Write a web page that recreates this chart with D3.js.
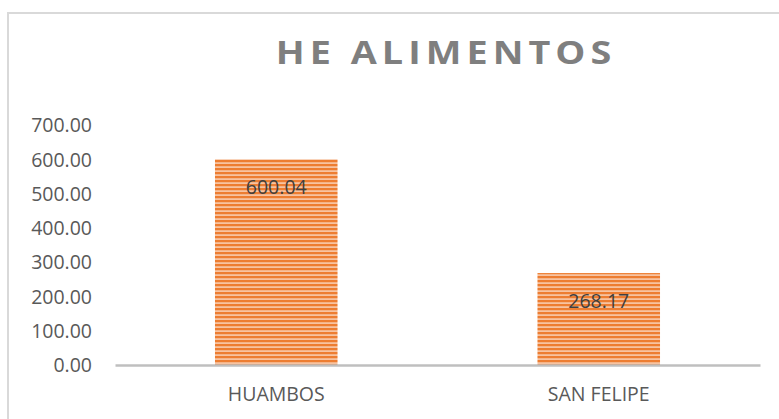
<!DOCTYPE html>
<html>
<head>
<meta charset="utf-8">
<script src="https://cdn.jsdelivr.net/npm/d3@7"></script>
<style>
    body { margin: 0; background: #fff; }
    text { font-family: "Open Sans", sans-serif; }
</style>
</head>
<body>
<div id="my_dataviz"></div>
<script>
// chart data
var categories = ["HUAMBOS", "SAN FELIPE"];
var values = [600.04, 268.17];
var yTicks = [0, 100, 200, 300, 400, 500, 600, 700];
var title = "HE ALIMENTOS";

var width = 779;
var height = 419;

var svg = d3
    .select("#my_dataviz")
    .append("svg")
    .attr("id", "svg")
    .attr("width", width)
    .attr("height", height);

// stripes like the excel "light horizontal" fill
var pat = svg.append("defs")
    .append("pattern")
    .attr("id", "stripes")
    .attr("patternUnits", "userSpaceOnUse")
    .attr("width", 8)
    .attr("height", 4);
pat.append("rect").attr("width", 8).attr("height", 4).attr("fill", "#ED7D31");
pat.append("rect").attr("y", 2.3).attr("width", 8).attr("height", 1.6).attr("fill", "#F9CBAD");

// chart border (runs off the right and bottom)
svg.append("rect")
    .attr("x", 8)
    .attr("y", 13)
    .attr("width", 800)
    .attr("height", 440)
    .attr("fill", "none")
    .attr("stroke", "#D9D9D9")
    .attr("stroke-width", 2);

// title - the original font is wider, so stretch it a bit
svg.append("text")
    .attr("transform", "translate(446,64) scale(1.2,1)")
    .attr("text-anchor", "middle")
    .style("font-size", "31.5px")
    .style("font-weight", "bold")
    .style("letter-spacing", "4.2px")
    .attr("fill", "#7F7F7F")
    .text(title);

var x = d3.scaleBand()
    .domain(categories)
    .range([115, 760])
    .paddingInner(0.62)
    .paddingOuter(0.31);

var y = d3.scaleLinear()
    .domain([0, 700])
    .range([365, 125]);

// y labels, no axis line
var yAxis = d3.axisLeft(y)
    .tickValues(yTicks)
    .tickSize(0)
    .tickPadding(0)
    .tickFormat(d3.format(".2f"));
var gy = svg.append("g")
    .attr("transform", "translate(92,0)")
    .call(yAxis);
gy.select(".domain").remove();
gy.selectAll("text")
    .attr("fill", "#595959")
    .style("font-size", "19.5px")
    .attr("dy", "0.35em");

svg.selectAll("bars")
    .data(values)
    .enter()
    .append("rect")
    .attr("x", function (d, i) { return x(categories[i]); })
    .attr("y", function (d) { return y(d); })
    .attr("width", x.bandwidth())
    .attr("height", function (d) { return y(0) - y(d); })
    .attr("fill", "url(#stripes)");

// value labels
svg.selectAll("vals")
    .data(values)
    .enter()
    .append("text")
    .attr("x", function (d, i) { return x(categories[i]) + x.bandwidth() / 2; })
    .attr("y", function (d) { return y(d) + 28; })
    .attr("dy", "0.35em")
    .attr("text-anchor", "middle")
    .attr("fill", "#404040")
    .style("font-size", "19.5px")
    .text(function (d) { return d.toFixed(2); });

// x axis
var xAxis = d3.axisBottom(x).tickSize(0).tickPadding(22);
var gx = svg.append("g")
    .attr("transform", "translate(0," + y(0) + ")")
    .call(xAxis);
gx.select(".domain")
    .attr("stroke", "#BFBFBF")
    .attr("stroke-width", 2.5);
gx.selectAll("text")
    .attr("fill", "#595959")
    .style("font-size", "19.5px")
    .attr("font-family", null);
</script>
</body>
</html>
